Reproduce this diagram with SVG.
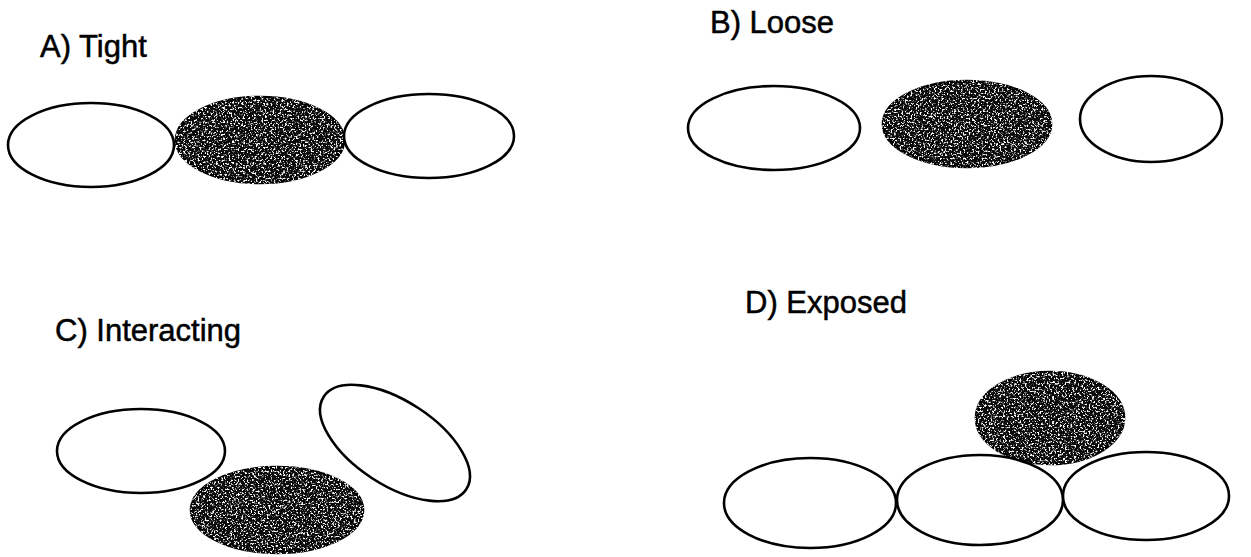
<svg xmlns="http://www.w3.org/2000/svg" width="1251" height="557" viewBox="0 0 1251 557">
  <style>
    .label { font-family: "Liberation Sans", Arial, sans-serif; font-size: 31px; fill: #000; stroke: #000; stroke-width: 0.5; }
    .open { fill: #fff; stroke: #000; stroke-width: 2.6; }
    .dark { fill: #0a0a0a; stroke: #000; stroke-width: 2.6; filter: url(#grain); }
  </style>
  <defs>
    <!-- speckled fill: white flecks scattered over the solid black -->
    <filter id="grain" x="-2%" y="-2%" width="104%" height="104%" color-interpolation-filters="sRGB">
      <feTurbulence type="fractalNoise" baseFrequency="0.55" numOctaves="2" seed="7" result="noise"/>
      <feColorMatrix in="noise" type="matrix" values="0 0 0 0 1  0 0 0 0 1  0 0 0 0 1  7 0 0 0 -3.7" result="flecks"/>
      <feComposite in="flecks" in2="SourceAlpha" operator="in" result="inside"/>
      <feMerge>
        <feMergeNode in="SourceGraphic"/>
        <feMergeNode in="inside"/>
      </feMerge>
    </filter>
  </defs>
  <rect width="1251" height="557" fill="#fff"/>

  <!-- A) Tight -->
  <g id="panel-a">
    <text class="label" x="40" y="57">A) Tight</text>
    <ellipse class="open" cx="91" cy="145" rx="83" ry="42"/>
    <ellipse class="dark" cx="260" cy="140" rx="84" ry="43"/>
    <ellipse class="open" cx="429" cy="136" rx="85" ry="42"/>
  </g>

  <!-- B) Loose -->
  <g id="panel-b">
    <text class="label" x="710" y="33">B) Loose</text>
    <ellipse class="open" cx="774" cy="128" rx="86" ry="42"/>
    <ellipse class="dark" cx="967" cy="124" rx="84" ry="43"/>
    <ellipse class="open" cx="1151" cy="119" rx="71" ry="43"/>
  </g>

  <!-- C) Interacting -->
  <g id="panel-c">
    <text class="label" x="55" y="341">C) Interacting</text>
    <ellipse class="open" cx="141" cy="451" rx="84" ry="42"/>
    <ellipse class="dark" cx="277" cy="510" rx="86" ry="43"/>
    <ellipse class="open" cx="0" cy="0" rx="85" ry="42" transform="translate(395 443) rotate(33)"/>
  </g>

  <!-- D) Exposed -->
  <g id="panel-d">
    <text class="label" x="745" y="313">D) Exposed</text>
    <ellipse class="dark" cx="1050" cy="418" rx="74" ry="46"/>
    <ellipse class="open" cx="810" cy="503" rx="86" ry="45"/>
    <ellipse class="open" cx="980" cy="500" rx="83" ry="45"/>
    <ellipse class="open" cx="1146" cy="496" rx="83" ry="44"/>
  </g>

  <!-- no connectors in this figure -->
  <g id="connectors"/>
</svg>
